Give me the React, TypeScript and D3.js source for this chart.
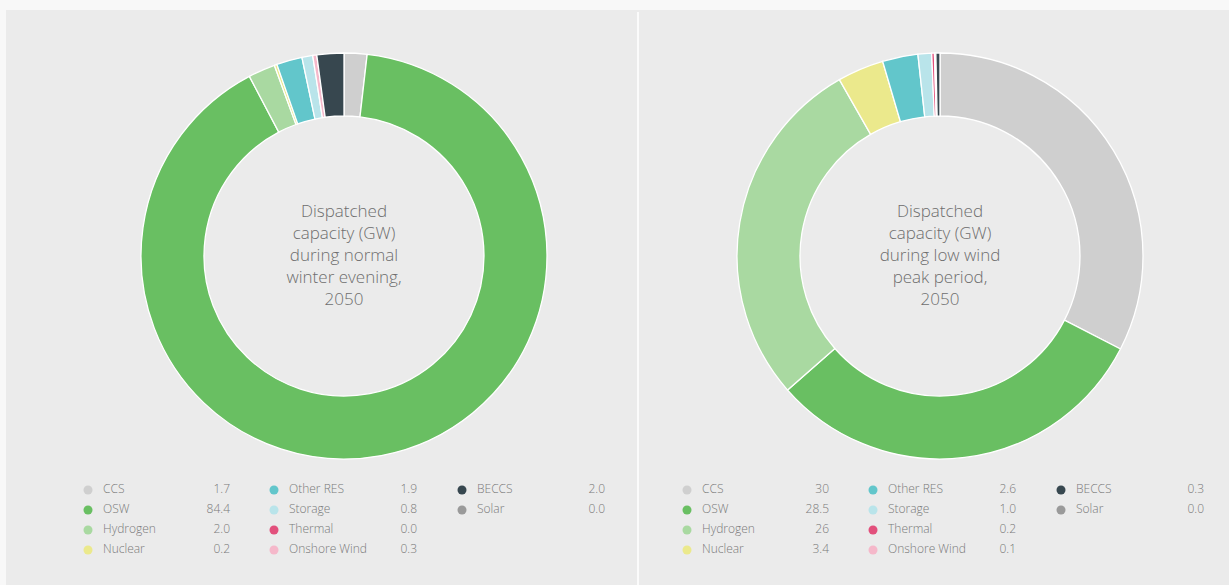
import React from "react";
import * as d3 from "d3";

const categories = ["CCS", "OSW", "Hydrogen", "Nuclear", "Other RES", "Storage", "Thermal", "Onshore Wind", "BECCS", "Solar"];
const colors = ["#cfcfcf", "#69bf62", "#a9d9a1", "#ebe98c", "#62c6cb", "#b9e4ea", "#e2507c", "#f5b8ca", "#37474f", "#9a9a9a"];
const normalValues = [1.7, 84.4, 2.0, 0.2, 1.9, 0.8, 0.0, 0.3, 2.0, 0.0];
const normalLabels = ["1.7", "84.4", "2.0", "0.2", "1.9", "0.8", "0.0", "0.3", "2.0", "0.0"];
const lowWindValues = [30, 28.5, 26, 3.4, 2.6, 1.0, 0.2, 0.1, 0.3, 0.0];
const lowWindLabels = ["30", "28.5", "26", "3.4", "2.6", "1.0", "0.2", "0.1", "0.3", "0.0"];
const normalTitle = ["Dispatched", "capacity (GW)", "during normal", "winter evening,", "2050"];
const lowWindTitle = ["Dispatched", "capacity (GW)", "during low wind", "peak period,", "2050"];

const W = 1229;
const H = 585;
const FONT = "'Open Sans', 'Noto Sans', sans-serif";

type DonutProps = {
  cx: number;
  values: number[];
  labels: string[];
  title: string[];
  legendX: number;
};

function Donut({ cx, values, labels, title, legendX }: DonutProps) {
  const cy = 256;
  const outer = 203;
  const inner = 140;
  const pie = d3.pie<number>().sort(null).value((d) => d)(values);
  const arc = d3.arc<d3.PieArcDatum<number>>().innerRadius(inner).outerRadius(outer);
  const rowY = d3.scaleLinear().domain([0, 3]).range([490, 550]);
  const colOffsets = [0, 186, 374];
  const valueOffsets = [142, 329, 517];
  return (
    <g>
      <g transform={`translate(${cx},${cy})`}>
        {pie.map((p, i) =>
          p.value > 0 ? (
            <path key={i} d={arc(p) || ""} fill={colors[i]} stroke="#ffffff" strokeWidth={1.3} />
          ) : null
        )}
        {title.map((t, i) => (
          <text
            key={i}
            x={0}
            y={-44 + i * 22}
            textAnchor="middle"
            dominantBaseline="middle"
            fontFamily={FONT}
            fontSize={17}
            fontWeight={300}
            fill="#6e6e6e"
          >
            {t}
          </text>
        ))}
      </g>
      {categories.map((c, i) => {
        const col = i < 4 ? 0 : i < 8 ? 1 : 2;
        const row = i < 4 ? i : i < 8 ? i - 4 : i - 8;
        const x = legendX + colOffsets[col];
        const y = rowY(row);
        return (
          <g key={c}>
            <circle cx={x} cy={y} r={4.5} fill={colors[i]} />
            <text x={x + 15} y={y} dominantBaseline="middle" fontFamily={FONT} fontSize={12} fontWeight={300} fill="#7a7a7a">
              {c}
            </text>
            <text
              x={x + valueOffsets[col] - colOffsets[col]}
              y={y}
              textAnchor="end"
              dominantBaseline="middle"
              fontFamily={FONT}
              fontSize={12}
              fontWeight={300}
              fill="#7a7a7a"
            >
              {labels[i]}
            </text>
          </g>
        );
      })}
    </g>
  );
}

export default function App() {
  return (
    <svg
      width={W}
      height={H}
      style={{ position: "absolute", left: 0, top: 0, display: "block" }}
    >
      <rect x={0} y={0} width={W} height={H} fill="#f8f8f8" />
      <rect x={6} y={10} width={W - 6} height={H - 10} fill="#ebebeb" />
      <line x1={638} x2={638} y1={12} y2={H} stroke="#fbfbfb" strokeWidth={2} />
      <Donut cx={344} values={normalValues} labels={normalLabels} title={normalTitle} legendX={88} />
      <Donut cx={940} values={lowWindValues} labels={lowWindLabels} title={lowWindTitle} legendX={687} />
    </svg>
  );
}
